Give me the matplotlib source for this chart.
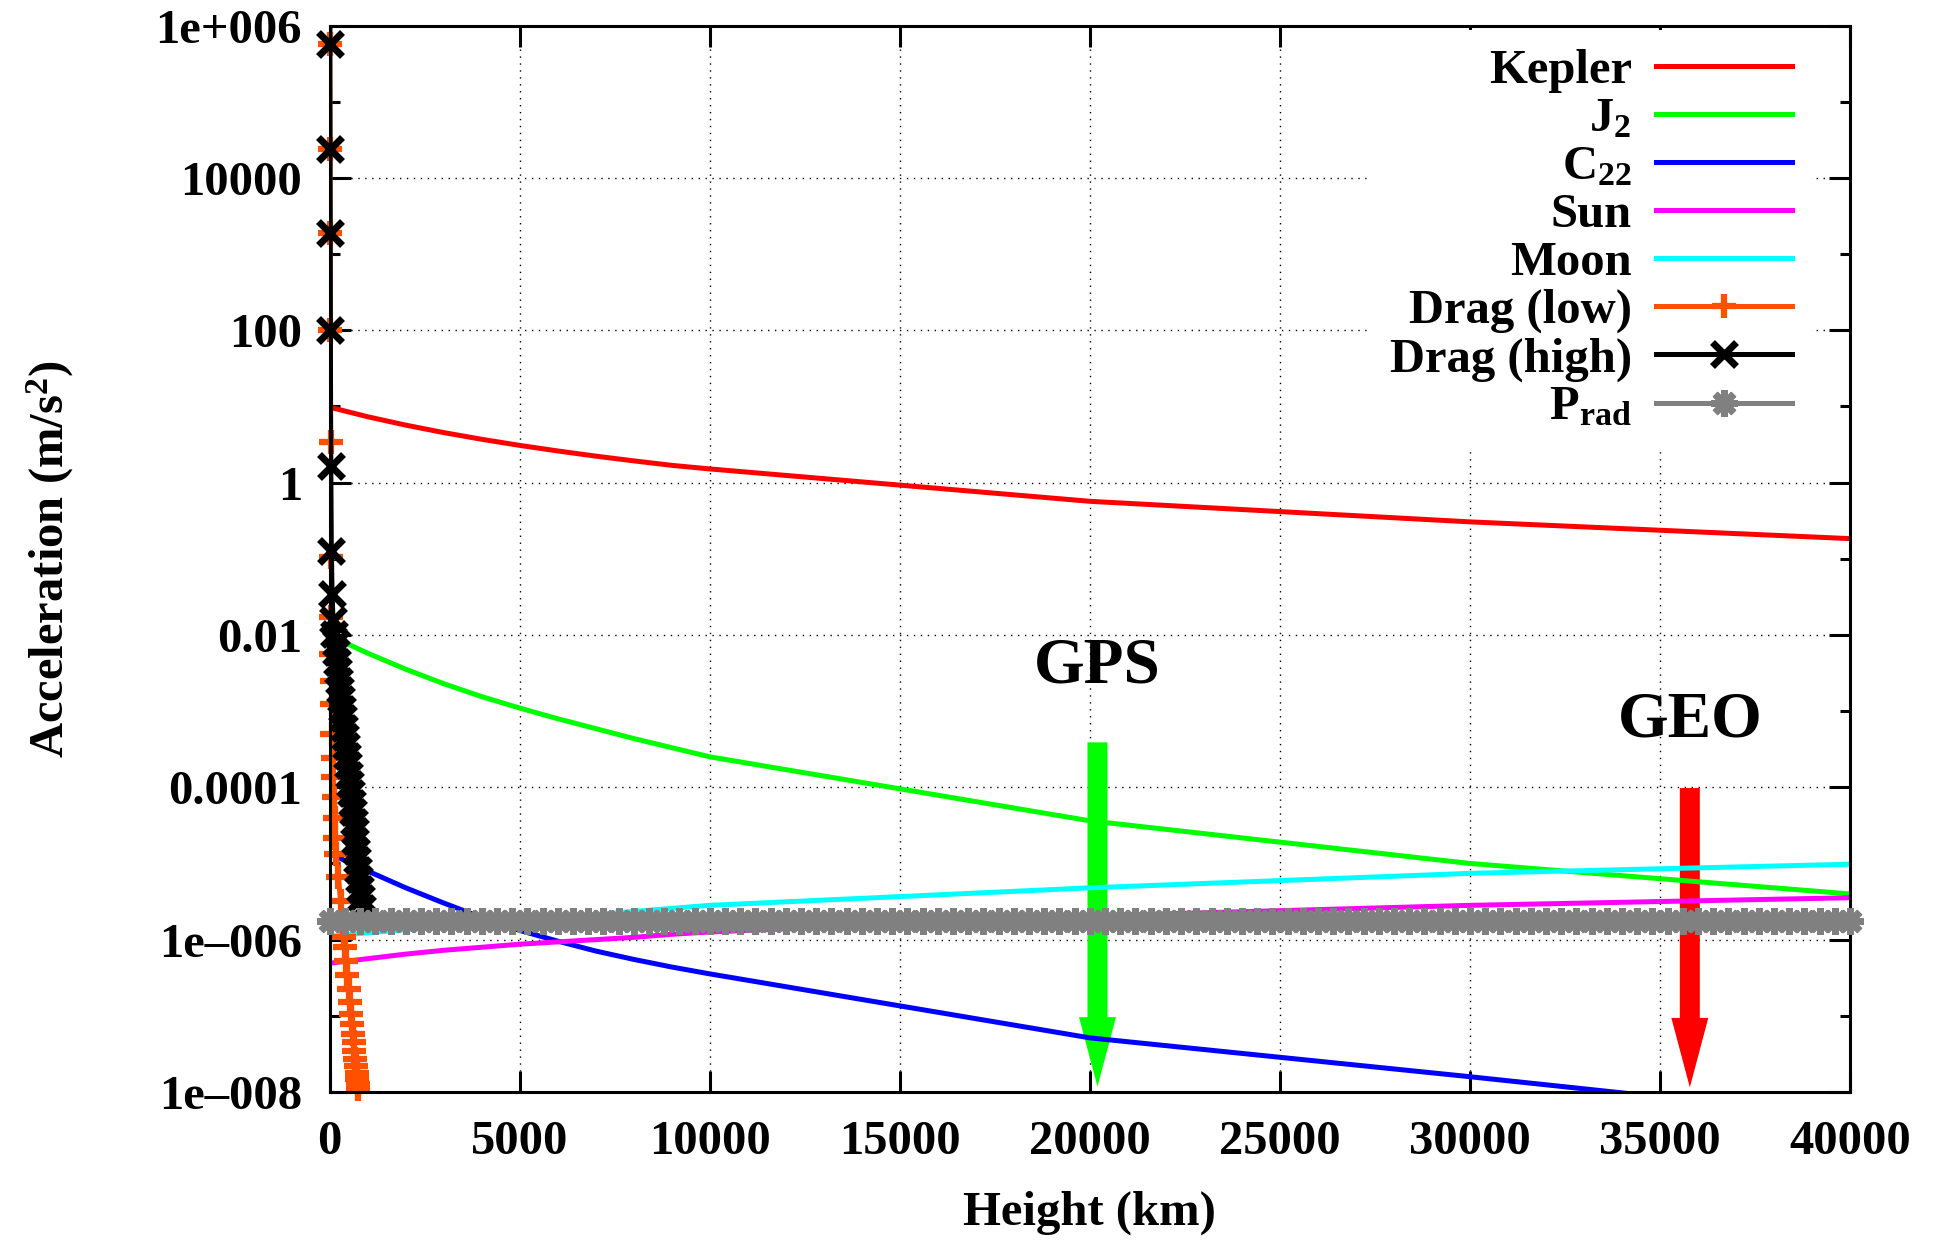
import numpy as np
import matplotlib
matplotlib.use('Agg')
import matplotlib.pyplot as plt
from matplotlib.lines import Line2D
from matplotlib.ticker import FixedLocator, FixedFormatter, NullLocator

# ---- data (log10 of acceleration in m/s^2) ----
# heights (km) where the smooth force models are sampled
height_km = [0, 1000, 2000, 3000, 4000, 5000, 6000, 7000, 8000, 9000, 10000,
             20000, 30000, 40000]
log_kepler = [0.99, 0.865, 0.755, 0.657, 0.569, 0.489, 0.416, 0.348, 0.286,
              0.227, 0.18, -0.245, -0.515, -0.735]
log_j2 = [-2.01, -2.24, -2.45, -2.64, -2.81, -2.96, -3.10, -3.23, -3.36,
          -3.48, -3.60, -4.44, -5.00, -5.40]
log_c22 = [-4.87, -5.10, -5.32, -5.52, -5.71, -5.88, -6.02, -6.15, -6.26,
           -6.36, -6.45, -7.29, -7.80, -8.33]
log_sun = [-6.31, -6.25, -6.19, -6.14, -6.10, -6.06, -6.03, -6.00, -5.97,
           -5.93, -5.90, -5.69, -5.55, -5.45]
log_moon = [-5.96, -5.91, -5.87, -5.83, -5.79, -5.75, -5.71, -5.67, -5.63,
            -5.59, -5.55, -5.32, -5.13, -5.01]

# drag, low solar activity (first point lies above the plotted range)
drag_low_h = [0, 0, 5, 10, 15, 20, 25, 30, 40, 50, 60, 70, 80, 95, 110, 125,
              140, 170, 225, 285, 340, 370, 395, 430, 465, 495, 525, 555, 580,
              605, 625, 645, 665, 685, 705, 725, 740, 752, 764, 775]
log_drag_low = [6.6, 5.76, 4.38, 3.28, 2.01, 0.54, -0.98, -1.77, -2.25, -2.60,
                -2.91, -3.30, -3.61, -3.87, -4.13, -4.40, -4.66, -4.88, -5.18,
                -5.49, -5.80, -5.97, -6.10, -6.28, -6.47, -6.65, -6.82, -6.98,
                -7.11, -7.24, -7.35, -7.46, -7.57, -7.66, -7.75, -7.83, -7.90,
                -7.96, -8.02, -8.07]

# drag, high solar activity
drag_high_h = [0, 0, 5, 10, 15, 25, 40, 60, 85, 110, 150, 175, 200, 225, 250,
               275, 300, 325, 350, 375, 400, 425, 450, 475, 500, 525, 550, 575,
               600, 625, 650, 675, 700, 725, 750, 775, 800, 825, 850]
log_drag_high = [6.6, 5.76, 4.38, 3.28, 2.01, 0.22, -0.90, -1.46, -1.81, -1.99,
                 -2.10, -2.22, -2.35, -2.47, -2.60, -2.72, -2.84, -2.97, -3.09,
                 -3.22, -3.34, -3.46, -3.59, -3.71, -3.84, -3.96, -4.08, -4.21,
                 -4.33, -4.46, -4.58, -4.70, -4.83, -4.95, -5.08, -5.20, -5.33,
                 -5.45, -5.58]

# radiation pressure: constant level, sampled every 400 km
prad_h = list(range(0, 40001, 400))
log_prad = [-5.75] * len(prad_h)

labels = ['Kepler', 'J$_2$', 'C$_{22}$', 'Sun', 'Moon', 'Drag (low)',
          'Drag (high)', 'P$_{\\mathrm{rad}}$']

# orbit markers: (height km, arrow top log10, arrow tip log10, text log10)
gps = (20200, -3.41, -7.93, -2.41)
geo = (35786, -4.01, -7.94, -3.12)

x_ticks = [0, 5000, 10000, 15000, 20000, 25000, 30000, 35000, 40000]
y_major = [1e-8, 1e-6, 1e-4, 1e-2, 1e0, 1e2, 1e4, 1e6]
y_minor = [1e-7, 1e-5, 1e-3, 1e-1, 1e1, 1e3, 1e5]
y_tick_labels = ['1e\u2013008', '1e\u2013006', '0.0001', '0.01', '1', '100',
                 '10000', '1e+006']

YMIN, YMAX = 1e-8, 1e6
LW = 3.6

plt.rcParams['font.family'] = ['Liberation Serif', 'DejaVu Serif']
plt.rcParams['font.weight'] = 'bold'
plt.rcParams['axes.labelweight'] = 'bold'
plt.rcParams['mathtext.fontset'] = 'custom'
plt.rcParams['mathtext.rm'] = 'Liberation Serif:bold'
plt.rcParams['mathtext.bf'] = 'Liberation Serif:bold'
plt.rcParams['mathtext.it'] = 'Liberation Serif:italic:bold'

fig, ax = plt.subplots(figsize=(19.4, 12.4), dpi=100)
fig.subplots_adjust(left=0.170, right=0.9536, top=0.9793, bottom=0.1194)

h = np.asarray(height_km, dtype=float)
smooth = [(log_kepler, '#ff0000'), (log_j2, '#00ff00'), (log_c22, '#0000ff'),
          (log_sun, '#ff00ff'), (log_moon, '#00ffff')]
handles = []
for i, (lv, col) in enumerate(smooth):
    ax.plot(h, 10.0 ** np.asarray(lv), color=col, lw=LW, zorder=2 + 0.05 * i)
    handles.append(Line2D([], [], color=col, lw=LW))


def plot_marked(hh, lv, color, marker, ms, mew, z):
    hh = np.asarray(hh, dtype=float)
    v = 10.0 ** np.asarray(lv)
    ax.plot(hh, v, color=color, lw=LW, zorder=z)
    keep = (v >= YMIN) & (v <= YMAX)
    ax.plot(hh[keep], v[keep], ls='none', marker=marker, ms=ms, mew=mew,
            color=color, clip_on=False, zorder=z)
    return Line2D([], [], color=color, lw=LW, marker=marker, ms=ms, mew=mew)


handles.append(plot_marked(drag_low_h, log_drag_low, '#ff5000', '+', 17, 4.5, 2.5))
handles.append(plot_marked(drag_high_h, log_drag_high, 'black', 'x', 17, 5.0, 2.6))
handles.append(plot_marked(prad_h, log_prad, '#808080', (8, 2, 0), 19, 5.0, 2.7))

# GPS / GEO arrows and labels
for (hx, top, tip, ty), name, col in [(gps, 'GPS', '#00ff00'), (geo, 'GEO', '#ff0000')]:
    ax.annotate('', xy=(hx, 10 ** tip), xytext=(hx, 10 ** top),
                arrowprops=dict(arrowstyle='simple,head_length=5.0,head_width=2.66,tail_width=1.44',
                                color=col, lw=0, shrinkA=0, shrinkB=0, mutation_scale=10),
                zorder=1.5)
    ax.text(hx, 10 ** ty, name, ha='center', va='center', fontsize=47,
            fontweight='bold', zorder=3)

ax.set_yscale('log')
ax.set_xlim(0, 40000)
ax.set_ylim(YMIN, YMAX)
ax.xaxis.set_major_locator(FixedLocator(x_ticks))
ax.xaxis.set_minor_locator(NullLocator())
ax.yaxis.set_major_locator(FixedLocator(y_major))
ax.yaxis.set_major_formatter(FixedFormatter(y_tick_labels))
ax.yaxis.set_minor_locator(FixedLocator(y_minor))
ax.yaxis.set_minor_formatter(FixedFormatter([''] * len(y_minor)))

ax.tick_params(which='major', direction='in', length=15, width=2.2,
               top=True, right=True, labelsize=35, pad=20)
ax.tick_params(which='minor', direction='in', length=7, width=2.2,
               top=True, right=True)
for sp in ax.spines.values():
    sp.set_linewidth(2.2)

ax.set_axisbelow(True)
ax.grid(True, which='major', color='black', linestyle=(0, (1, 4)), linewidth=1.0)

ax.set_xlabel('Height (km)', fontsize=35, va='center')
ax.xaxis.set_label_coords(0.5, -0.1135)
ax.set_ylabel('Acceleration (m/s$^2$)', fontsize=35, va='center')
ax.yaxis.set_label_coords(-0.184, 0.5)

leg = ax.legend(handles, labels, loc='upper right', bbox_to_anchor=(0.9744, 0.996),
                borderaxespad=0, borderpad=0.4, handlelength=2.8,
                handletextpad=0.49, labelspacing=0.08, fontsize=35,
                markerfirst=False, frameon=True, framealpha=1, fancybox=False,
                edgecolor='none', facecolor='white', numpoints=1)

fig.savefig('out.png', dpi=100)
